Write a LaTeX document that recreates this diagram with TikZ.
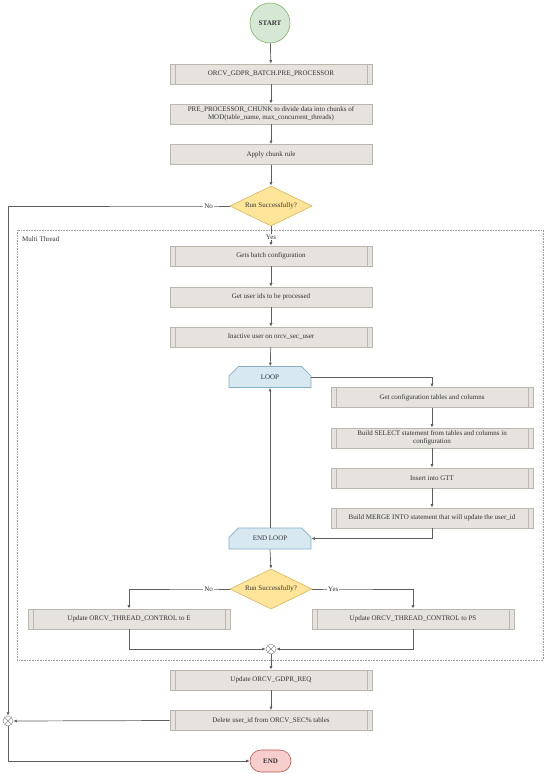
\documentclass[tikz,border=0pt]{standalone}
\usepackage{fontspec}
\setmainfont{Liberation Serif}
\usetikzlibrary{shapes.geometric,shapes.misc,arrows.meta}
\definecolor{boxfill}{HTML}{E6E3DE}
\definecolor{boxline}{HTML}{BAB6B0}
\definecolor{lineclr}{HTML}{5E5E5E}
\definecolor{txt}{HTML}{333333}
\definecolor{startfill}{HTML}{D5E8D4}
\definecolor{startline}{HTML}{82B366}
\definecolor{decfill}{HTML}{FFE599}
\definecolor{decline}{HTML}{D6B656}
\definecolor{loopfill}{HTML}{D7E8F1}
\definecolor{loopline}{HTML}{86AFC6}
\definecolor{endfill}{HTML}{F8CECC}
\definecolor{endline}{HTML}{B85450}
\tikzstyle{flow}=[draw=lineclr,line width=0.7pt,-{Latex[length=3.5pt,width=3pt]}]
\tikzstyle{plainbox}=[rectangle,draw=boxline,fill=boxfill,line width=0.6pt,minimum width=202pt,minimum height=20pt,inner sep=1pt,align=center,text=txt,font=\fontsize{7}{8.5}\selectfont]
\tikzstyle{proc}=[plainbox,path picture={
    \draw[boxline,line width=0.6pt] ([xshift=5pt]path picture bounding box.north west) -- ([xshift=5pt]path picture bounding box.south west)
    ([xshift=-5pt]path picture bounding box.north east) -- ([xshift=-5pt]path picture bounding box.south east);}]
\tikzstyle{decision}=[diamond,aspect=2,draw=decline,fill=decfill,line width=0.6pt,minimum width=82pt,minimum height=40pt,inner sep=0pt,text=txt,font=\fontsize{7}{8.5}\selectfont]
\tikzstyle{loopbox}=[chamfered rectangle,chamfered rectangle corners={north west,north east},chamfered rectangle xsep=9pt,chamfered rectangle ysep=6pt,draw=loopline,fill=loopfill,line width=0.6pt,minimum width=82pt,minimum height=21pt,inner sep=1pt,text=txt,font=\fontsize{7}{8.5}\selectfont]
\tikzstyle{joinpt}=[circle,draw=lineclr!70,fill=white,line width=0.5pt,minimum size=10pt,inner sep=0pt,path picture={
    \draw[lineclr!70,line width=0.5pt] (path picture bounding box.north west) -- (path picture bounding box.south east)
    (path picture bounding box.north east) -- (path picture bounding box.south west);}]
\tikzstyle{lbl}=[fill=white,inner sep=1pt,text=txt,font=\fontsize{7}{8}\selectfont]

\begin{document}
\begin{tikzpicture}[x=1pt,y=-1pt]
	\useasboundingbox (0,0) rectangle (546,774);
	% main column
	\node[circle,draw=startline,fill=startfill,line width=0.6pt,minimum size=40pt,text=txt,font=\fontsize{7}{8}\selectfont\bfseries] (start) at (270,23) {START};
	\node[proc] (pre) at (271,74) {ORCV\_GDPR\_BATCH.PRE\_PROCESSOR};
	\node[plainbox] (chunk) at (271,114) {PRE\_PROCESSOR\_CHUNK to divide data into chunks of\\MOD(table\_name, max\_concurrent\_threads)};
	\node[plainbox] (rule) at (271,154.5) {Apply chunk rule};
	\node[decision] (dec1) at (271,206) {Run Successfully?};
	% multi thread frame
	\draw[draw=lineclr!60,line width=0.6pt,dash pattern=on 0.8pt off 0.8pt] (17,230) rectangle (543,660);
	\node[anchor=west,inner sep=0pt,text=txt,font=\fontsize{7}{8}\selectfont] (mt) at (22,239) {Multi Thread};
	\node[proc] (batch) at (271,256) {Gets batch configuration};
	\node[plainbox] (users) at (271,297) {Get user ids to be processed};
	\node[proc] (inactive) at (271,337) {Inactive user on orcv\_sec\_user};
	\node[loopbox] (loop) at (270,377) {LOOP};
	\node[proc] (cfg) at (432,397.5) {Get configuration tables and columns};
	\node[proc] (select) at (432,438) {Build SELECT statement from tables and columns in\\configuration};
	\node[proc] (gtt) at (432,478) {Insert into GTT};
	\node[proc] (merge) at (432,518) {Build MERGE INTO statement that will update the user\_id};
	\node[loopbox] (endloop) at (270,538.5) {END LOOP};
	\node[decision] (dec2) at (271,589) {Run Successfully?};
	\node[proc] (thrE) at (129,619) {Update ORCV\_THREAD\_CONTROL to E};
	\node[proc] (thrPS) at (413,619) {Update ORCV\_THREAD\_CONTROL to PS};
	\node[joinpt] (join1) at (271,649) {};
	% after the frame
	\node[proc] (gdpr) at (271,680) {Update ORCV\_GDPR\_REQ};
	\node[proc] (delete) at (271,720.5) {Delete user\_id from ORCV\_SEC\% tables};
	\node[joinpt] (join2) at (8,721) {};
	\node[rectangle,rounded corners=11pt,draw=endline,fill=endfill,line width=0.6pt,minimum width=41pt,minimum height=22pt,text=txt,font=\fontsize{7}{8}\selectfont\bfseries] (endn) at (270.5,761) {END};

	\draw[flow] (start) -- (pre);
	\draw[flow] (pre) -- (chunk);
	\draw[flow] (chunk) -- (rule);
	\draw[flow] (rule) -- (dec1);
	\draw[flow] (dec1.west) -- ++(-21,0) node[lbl] {No} -| (join2.north);
	\draw[flow] (dec1.south) -- node[lbl,pos=0.55] {Yes} (batch.north);
	\draw[flow] (batch) -- (users);
	\draw[flow] (users) -- (inactive);
	\draw[flow] (inactive) -- (loop);
	\draw[flow] (loop.east) -| (cfg.north);
	\draw[flow] (cfg) -- (select);
	\draw[flow] (select) -- (gtt);
	\draw[flow] (gtt) -- (merge);
	\draw[flow] (merge.south) |- (endloop.east);
	\draw[flow] (endloop.north) -- (loop.south);
	\draw[flow] (endloop.south) -- (dec2.north);
	\draw[flow] (dec2.west) -- ++(-21,0) node[lbl] {No} -| (thrE.north);
	\draw[flow] (dec2.east) -- ++(21,0) node[lbl] {Yes} -| (thrPS.north);
	\draw[flow] (thrE.south) |- (join1.west);
	\draw[flow] (thrPS.south) |- (join1.east);
	\draw[flow] (join1) -- (gdpr);
	\draw[flow] (gdpr) -- (delete);
	\draw[flow] (delete.west) -- (join2.east);
	\draw[flow] (join2.south) |- (endn.west);
\end{tikzpicture}
\end{document}
